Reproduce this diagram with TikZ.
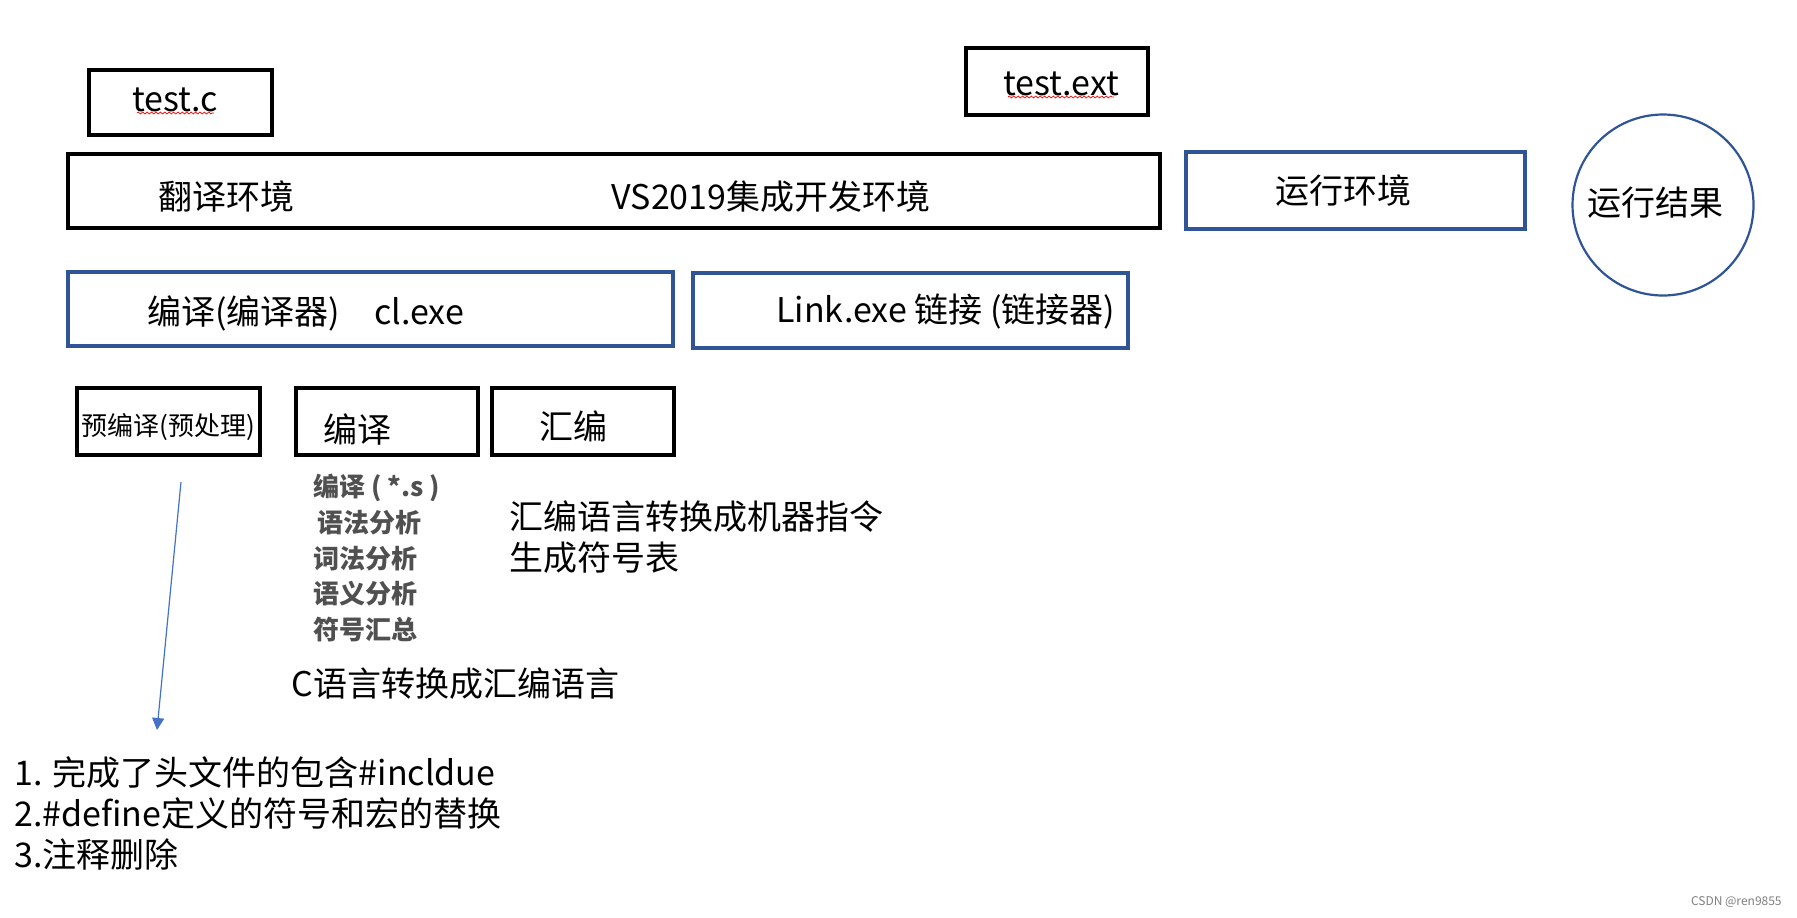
\documentclass[tikz,border=0pt]{standalone}
\usepackage{fontspec}
\setmainfont{Noto Sans CJK SC}
\usetikzlibrary{arrows.meta,decorations.pathmorphing}
\definecolor{pptblue}{HTML}{2F5597}
\definecolor{arrblue}{HTML}{4472C4}
\definecolor{listgray}{HTML}{505050}
\begin{document}
\begin{tikzpicture}[x=0.5pt,y=-0.5pt,
  blackbox/.style={draw=black,line width=1.9pt},
  bluebox/.style={draw=pptblue,line width=1.7pt},
  lbl/.style={inner sep=0pt,font=\fontsize{17pt}{20.5pt}\selectfont},
  small/.style={inner sep=0pt,font=\fontsize{13pt}{16pt}\selectfont},
  squig/.style={draw=red,line width=0.35pt,decorate,decoration={snake,amplitude=0.5pt,segment length=2.2pt}}]
\useasboundingbox[fill=white] (0,0) rectangle (1797,917);

% boxes
\draw[blackbox] (89,70) rectangle (272,135);
\draw[blackbox] (966,48) rectangle (1148,115);
\draw[blackbox] (68,154) rectangle (1160,228);
\draw[bluebox] (1186,152) rectangle (1525,229);
\draw[draw=pptblue,line width=1.1pt] (1663,205) circle[radius=90.5];
\draw[bluebox] (68,272) rectangle (673,346);
\draw[bluebox] (693,273) rectangle (1128,348);
\draw[blackbox] (77,388) rectangle (260,455);
\draw[blackbox] (296,388) rectangle (478,455);
\draw[blackbox] (492,388) rectangle (674,455);

% texts
\node[lbl] (testc) at (175,100) {test.c};
\draw[squig] (137,113) -- (214,113);
\node[lbl] (testext) at (1061,84) {test.ext};
\draw[squig] (1008,97) -- (1114,97);
\node[lbl] (fanyi) at (226,197) {翻译环境};
\node[lbl] (vs) at (771,197) {VS2019集成开发环境};
\node[lbl] (yunxing) at (1343,191) {运行环境};
\node[lbl] (jieguo) at (1655,203) {运行结果};
\node[lbl,anchor=west] (clexe) at (147,313) {编译(编译器)\hspace{1em}cl.exe};
\node[lbl,anchor=west] (link) at (776,311) {Link.exe 链接 (链接器)};
\node[small] (yubianyi) at (168,427) {预编译(预处理)};
\node[lbl,anchor=west] (bianyi) at (323,429) {编译};
\node[lbl,anchor=west] (huibian) at (539,426) {汇编};

\node[small,anchor=north west,align=left,text=listgray,font=\bfseries\fontsize{13pt}{17.8pt}\selectfont] (list) at (313,474)
  {编译 ( *.s )\\\hspace{2pt}语法分析\\词法分析\\语义分析\\符号汇总};
\node[lbl,anchor=north west,align=left] (hb) at (509,500) {汇编语言转换成机器指令\\生成符号表};
\node[lbl,anchor=west] (c2asm) at (291,684) {C语言转换成汇编语言};
\node[lbl,anchor=north west,align=left] (steps) at (14,756)
  {1. 完成了头文件的包含\#incldue\\2.\#define定义的符号和宏的替换\\3.注释删除};

\coordinate (astart) at (181,482);
\coordinate (aend) at (157,730);
\draw[arrblue,line width=0.6pt,-{Triangle[width=6pt,length=6pt]}] (astart) -- (aend);

\node[inner sep=0pt,anchor=east,text=gray,font=\fontsize{6pt}{7pt}\selectfont] (csdn) at (1782,902) {CSDN @ren9855};
\end{tikzpicture}
\end{document}
